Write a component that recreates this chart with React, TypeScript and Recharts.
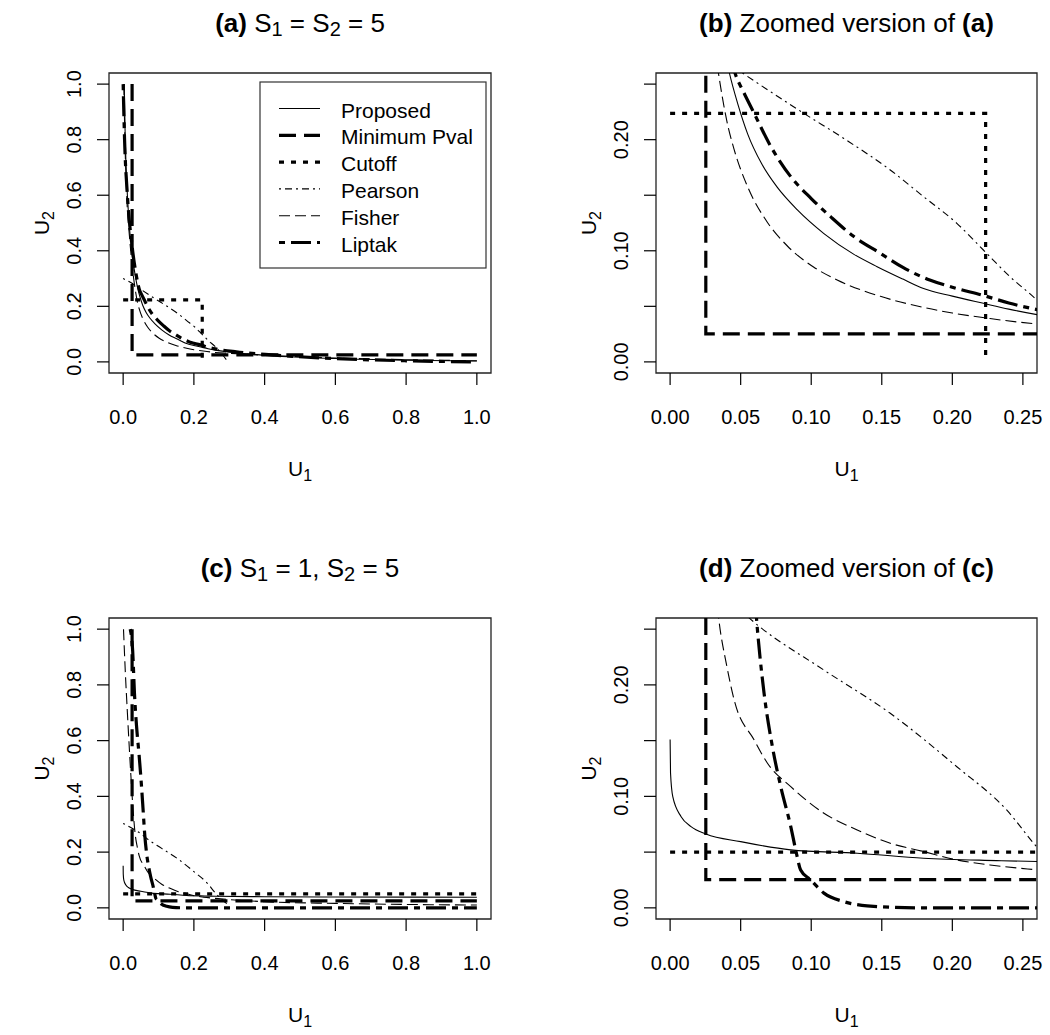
import React from 'react';
import { LineChart, Line, XAxis, YAxis, ReferenceArea } from 'recharts';

type Pt = [number, number];

// ---------- Scenario (a)/(b): S1 = S2 = 5 ----------
const proposedA: Pt[] = [[0.003, 1.0], [0.006, 0.8], [0.012, 0.6], [0.022, 0.42], [0.033, 0.32], [0.042, 0.26], [0.048, 0.232], [0.055, 0.205], [0.065, 0.178], [0.076, 0.157], [0.09, 0.137], [0.109, 0.1155], [0.13, 0.097], [0.1467, 0.0857], [0.165, 0.0745], [0.1796, 0.066], [0.2, 0.0592], [0.222, 0.0527], [0.24, 0.0475], [0.261, 0.0423], [0.32, 0.033], [0.42, 0.022], [0.6, 0.012], [0.8, 0.006], [1.0, 0.003]];
const minPvalA: Pt[] = [[0.0253, 1.0], [0.0253, 0.0253], [1.0, 0.0253]];
const cutoffA: Pt[] = [[0, 0.2236], [0.2236, 0.2236], [0.2236, 0]];
const pearsonA: Pt[] = [[0, 0.3], [0.025, 0.283], [0.0513, 0.26], [0.0949, 0.2236], [0.1231, 0.2011], [0.156, 0.1727], [0.1796, 0.1487], [0.2032, 0.1247], [0.222, 0.1007], [0.2408, 0.0767], [0.2597, 0.0558], [0.275, 0.035], [0.293, 0.006]];
const fisherA: Pt[] = [[0.002, 1.0], [0.005, 0.8], [0.01, 0.6], [0.018, 0.45], [0.026, 0.34], [0.034, 0.262], [0.04, 0.218], [0.0454, 0.191], [0.0549, 0.1577], [0.069, 0.1255], [0.0831, 0.1043], [0.1019, 0.0852], [0.1184, 0.0737], [0.149, 0.059], [0.1796, 0.049], [0.2, 0.044], [0.2267, 0.039], [0.2455, 0.036], [0.2608, 0.034], [0.3, 0.031], [0.4, 0.024], [0.6, 0.014], [0.8, 0.008], [1.0, 0.004]];
const liptakA: Pt[] = [[0.0, 1.0], [0.004, 0.8], [0.012, 0.6], [0.025, 0.42], [0.036, 0.32], [0.046, 0.26], [0.052, 0.243], [0.0596, 0.2236], [0.07, 0.197], [0.0855, 0.1667], [0.1, 0.147], [0.1137, 0.1307], [0.13, 0.113], [0.149, 0.0977], [0.165, 0.085], [0.184, 0.0737], [0.2, 0.0672], [0.223, 0.0594], [0.24, 0.053], [0.261, 0.0468], [0.32, 0.036], [0.42, 0.025], [0.6, 0.012], [0.8, 0.004], [1.0, 0.0]];

// ---------- Scenario (c)/(d): S1 = 1, S2 = 5 ----------
const proposedC: Pt[] = [[0, 0.151], [0.0003, 0.121], [0.0019, 0.0997], [0.0078, 0.0818], [0.0148, 0.0729], [0.0254, 0.0663], [0.05, 0.0594], [0.0855, 0.052], [0.1326, 0.049], [0.1796, 0.0445], [0.2314, 0.0424], [0.2608, 0.0415], [0.4, 0.04], [0.6, 0.039], [1.0, 0.038]];
const minPvalC: Pt[] = [[0.0253, 1.0], [0.0253, 0.0253], [1.0, 0.0253]];
const cutoffC: Pt[] = [[0, 0.05], [1.0, 0.05]];
const pearsonC: Pt[] = [[0, 0.303], [0.03, 0.282], [0.0513, 0.265], [0.062, 0.2536], [0.109, 0.2133], [0.156, 0.1745], [0.2032, 0.1266], [0.2385, 0.0878], [0.2597, 0.0549], [0.275, 0.035], [0.293, 0.015]];
const fisherC: Pt[] = [[0.001, 1.0], [0.006, 0.85], [0.012, 0.7], [0.018, 0.56], [0.024, 0.43], [0.03, 0.32], [0.0344, 0.26], [0.04, 0.218], [0.0454, 0.1864], [0.0596, 0.1505], [0.069, 0.1297], [0.0855, 0.1087], [0.109, 0.0849], [0.1326, 0.0699], [0.156, 0.058], [0.1796, 0.0505], [0.2032, 0.043], [0.2267, 0.0385], [0.2608, 0.034], [0.4, 0.022], [0.6, 0.016], [1.0, 0.01]];
const liptakC: Pt[] = [[0.02, 1.0], [0.027, 0.92], [0.032, 0.77], [0.038, 0.65], [0.045, 0.55], [0.05, 0.47], [0.056, 0.36], [0.0612, 0.26], [0.0666, 0.1924], [0.0725, 0.1445], [0.0784, 0.1087], [0.0855, 0.0729], [0.089, 0.052], [0.0925, 0.034], [0.0996, 0.0251], [0.109, 0.0132], [0.1231, 0.0056], [0.1396, 0.0018], [0.175, 0], [1.0, 0]];

// ---------- tick values ----------
const fullTicks = [0, 0.2, 0.4, 0.6, 0.8, 1.0];
const zoomTicks = [0, 0.05, 0.1, 0.15, 0.2, 0.25];
const zoomYLabelTicks = [0, 0.1, 0.2];

const seriesNames = ['Proposed', 'Minimum Pval', 'Cutoff', 'Pearson', 'Fisher', 'Liptak'];

const SERIES_STYLE: { width: number; dash?: string; curve: 'linear' | 'monotone' }[] = [
  { width: 1.1, dash: undefined, curve: 'monotone' },
  { width: 3.2, dash: '17 8', curve: 'linear' },
  { width: 3.2, dash: '5 7', curve: 'linear' },
  { width: 1.1, dash: '2 4 7 4', curve: 'monotone' },
  { width: 1.1, dash: '11 5', curve: 'monotone' },
  { width: 3.2, dash: '6 6 20 6', curve: 'monotone' },
];

const FONT = '"Liberation Sans", Arial, Helvetica, sans-serif';

interface PanelSpec {
  key: string;
  plot: { x1: number; y1: number; x2: number; y2: number };
  domain: [number, number];
  ticks: number[];
  yLabelTicks: number[];
  digits: number;
  series: Pt[][];
}

const PANELS: PanelSpec[] = [
  { key: 'a', plot: { x1: 109, y1: 73, x2: 491, y2: 373 }, domain: [-0.04, 1.04], ticks: fullTicks, yLabelTicks: fullTicks, digits: 1, series: [proposedA, minPvalA, cutoffA, pearsonA, fisherA, liptakA] },
  { key: 'b', plot: { x1: 656, y1: 73, x2: 1037, y2: 373 }, domain: [-0.01, 0.26], ticks: zoomTicks, yLabelTicks: zoomYLabelTicks, digits: 2, series: [proposedA, minPvalA, cutoffA, pearsonA, fisherA, liptakA] },
  { key: 'c', plot: { x1: 109, y1: 618, x2: 491, y2: 919 }, domain: [-0.04, 1.04], ticks: fullTicks, yLabelTicks: fullTicks, digits: 1, series: [proposedC, minPvalC, cutoffC, pearsonC, fisherC, liptakC] },
  { key: 'd', plot: { x1: 656, y1: 618, x2: 1037, y2: 919 }, domain: [-0.01, 0.26], ticks: zoomTicks, yLabelTicks: zoomYLabelTicks, digits: 2, series: [proposedC, minPvalC, cutoffC, pearsonC, fisherC, liptakC] },
];

const toObjs = (pts: Pt[]) => pts.map(([x, y]) => ({ x, y }));

function XTickLabel(props: any) {
  const { x, y, payload, digits } = props;
  return (
    <text x={x} y={y} textAnchor="middle" dominantBaseline="central" fontSize={20} fontFamily={FONT} fill="#000">
      {Number(payload.value).toFixed(digits)}
    </text>
  );
}

function YTickLabel(props: any) {
  const { x, y, payload, digits, show } = props;
  const v = Number(payload.value);
  if (!show.some((s: number) => Math.abs(s - v) < 1e-9)) return <g />;
  return (
    <text x={x} y={y} textAnchor="middle" dominantBaseline="central" fontSize={20} fontFamily={FONT} fill="#000" transform={`rotate(-90, ${x}, ${y})`}>
      {v.toFixed(digits)}
    </text>
  );
}

function Panel({ spec }: { spec: PanelSpec }) {
  const { x1, y1, x2, y2 } = spec.plot;
  const YW = 90, XH = 70, PAD = 10;
  const left = x1 - YW - PAD;
  const top = y1 - PAD;
  const width = x2 - x1 + YW + 2 * PAD;
  const height = y2 - y1 + XH + 2 * PAD;
  return (
    <div style={{ position: 'absolute', left, top, width, height }}>
      <LineChart width={width} height={height} margin={{ top: PAD, right: PAD, bottom: PAD, left: PAD }}>
        <XAxis
          type="number"
          dataKey="x"
          domain={spec.domain}
          allowDataOverflow
          ticks={spec.ticks}
          interval={0}
          height={XH}
          tickSize={12}
          tickMargin={32}
          axisLine={false}
          tickLine={{ stroke: '#000', strokeWidth: 1.2 }}
          tick={(p: any) => <XTickLabel x={p.x} y={p.y} payload={p.payload} digits={spec.digits} />}
        />
        <YAxis
          type="number"
          domain={spec.domain}
          allowDataOverflow
          ticks={spec.ticks}
          interval={0}
          width={YW}
          tickSize={12}
          tickMargin={23}
          axisLine={false}
          tickLine={{ stroke: '#000', strokeWidth: 1.2 }}
          tick={(p: any) => <YTickLabel x={p.x} y={p.y} payload={p.payload} digits={spec.digits} show={spec.yLabelTicks} />}
        />
        {SERIES_STYLE.map((s, i) => (
          <Line
            key={seriesNames[i]}
            name={seriesNames[i]}
            data={toObjs(spec.series[i])}
            dataKey="y"
            type={s.curve}
            stroke="#000"
            strokeWidth={s.width}
            strokeDasharray={s.dash}
            strokeLinecap="butt"
            dot={false}
            activeDot={false}
            isAnimationActive={false}
          />
        ))}
        <ReferenceArea
          x1={spec.domain[0]}
          x2={spec.domain[1]}
          y1={spec.domain[0]}
          y2={spec.domain[1]}
          fill="none"
          fillOpacity={0}
          stroke="#222"
          strokeWidth={1.3}
          ifOverflow="visible"
        />
      </LineChart>
    </div>
  );
}

type Seg = { t: string; bold?: boolean; sub?: boolean };

const TITLES: { key: string; segs: Seg[] }[] = [
  { key: 'a', segs: [{ t: '(a)', bold: true }, { t: ' S' }, { t: '1', sub: true }, { t: ' = S' }, { t: '2', sub: true }, { t: ' = 5' }] },
  { key: 'b', segs: [{ t: '(b)', bold: true }, { t: ' Zoomed version of ' }, { t: '(a)', bold: true }] },
  { key: 'c', segs: [{ t: '(c)', bold: true }, { t: ' S' }, { t: '1', sub: true }, { t: ' = 1, S' }, { t: '2', sub: true }, { t: ' = 5' }] },
  { key: 'd', segs: [{ t: '(d)', bold: true }, { t: ' Zoomed version of ' }, { t: '(c)', bold: true }] },
];

function RichText({ x, y, segs, size, subSize, subDy }: { x: number; y: number; segs: Seg[]; size: number; subSize: number; subDy: number }) {
  let shifted = false;
  const parts = segs.map((s, i) => {
    let dy = 0;
    if (s.sub && !shifted) { dy = subDy; shifted = true; }
    else if (!s.sub && shifted) { dy = -subDy; shifted = false; }
    return (
      <tspan key={i} dy={dy} fontWeight={s.bold ? 'bold' : 'normal'} fontSize={s.sub ? subSize : size}>
        {s.t}
      </tspan>
    );
  });
  return (
    <text x={x} y={y} textAnchor="middle" fontFamily={FONT} fill="#000" style={{ whiteSpace: 'pre' }}>
      {parts}
    </text>
  );
}

function Overlay() {
  const legendX = 260, legendY = 82, legendW = 226, legendH = 186;
  const rowY0 = 108.5, rowStep = 26.8;
  return (
    <svg width={1050} height={1035} style={{ position: 'absolute', left: 0, top: 0, pointerEvents: 'none' }}>
      {PANELS.map((p, idx) => {
        const cx = (p.plot.x1 + p.plot.x2) / 2;
        const cy = (p.plot.y1 + p.plot.y2) / 2;
        const title = TITLES[idx];
        const yLabX = p.plot.x1 - 60;
        return (
          <g key={p.key}>
            <RichText x={cx} y={p.plot.y1 - 41} segs={title.segs} size={26} subSize={20} subDy={4} />
            <RichText x={cx} y={p.plot.y2 + 103} segs={[{ t: 'U' }, { t: '1', sub: true }]} size={21} subSize={16} subDy={5} />
            <g transform={`rotate(-90, ${yLabX}, ${cy})`}>
              <RichText x={yLabX} y={cy} segs={[{ t: 'U' }, { t: '2', sub: true }]} size={21} subSize={16} subDy={5} />
            </g>
          </g>
        );
      })}
      <rect x={legendX} y={legendY} width={legendW} height={legendH} fill="none" stroke="#333" strokeWidth={1.2} />
      {seriesNames.map((n, i) => {
        const y = rowY0 + rowStep * i;
        const s = SERIES_STYLE[i];
        return (
          <g key={n}>
            <line x1={279} x2={320} y1={y} y2={y} stroke="#000" strokeWidth={s.width} strokeDasharray={s.dash} />
            <text x={341} y={y + 9} fontSize={21} fontFamily={FONT} fill="#000">{n}</text>
          </g>
        );
      })}
    </svg>
  );
}

export default function App() {
  return (
    <div style={{ position: 'absolute', left: 0, top: 0, width: 1050, height: 1035, background: '#fff', fontFamily: FONT }}>
      {PANELS.map((p) => (
        <Panel key={p.key} spec={p} />
      ))}
      <Overlay />
    </div>
  );
}
